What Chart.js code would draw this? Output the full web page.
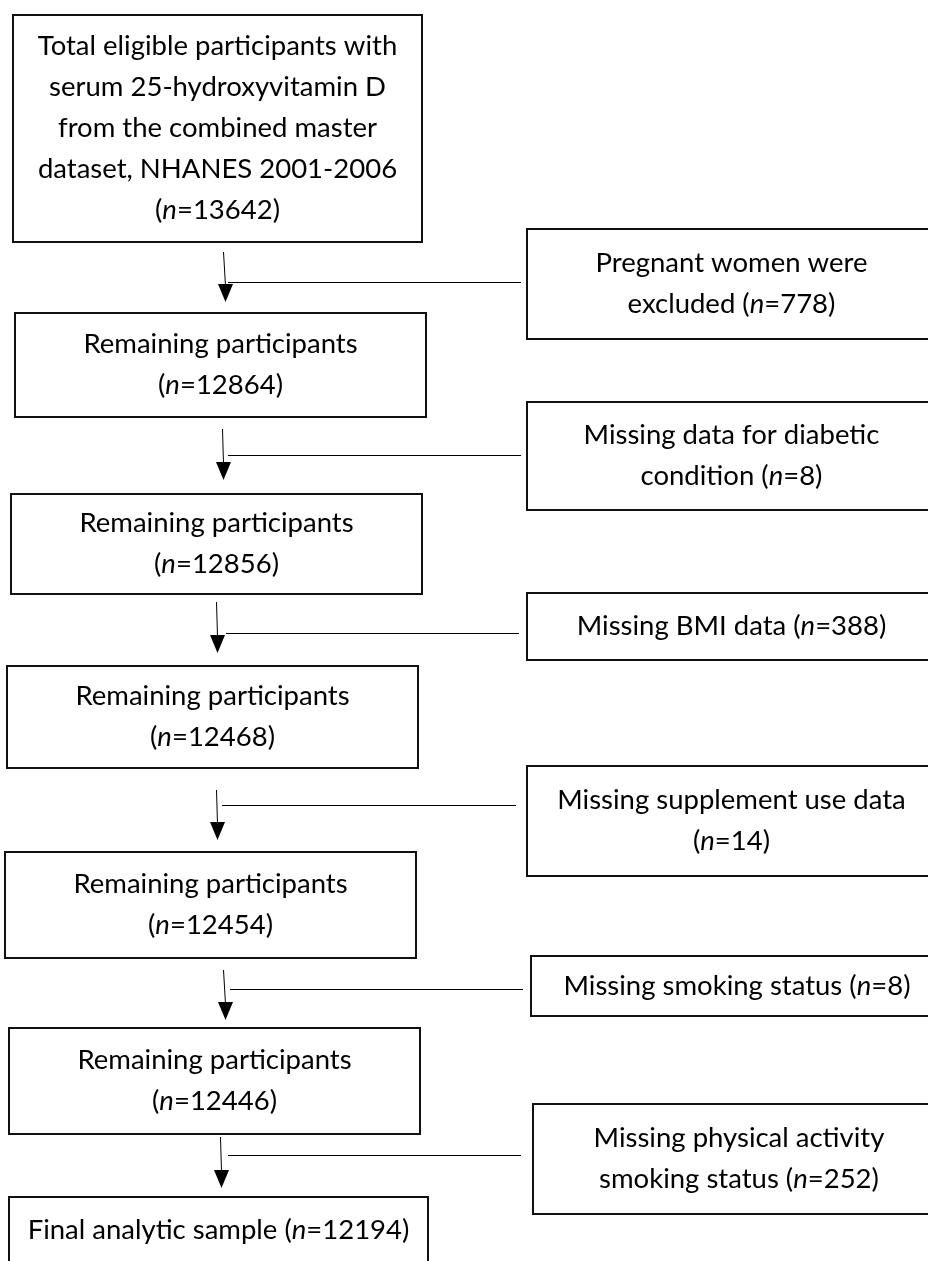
<!DOCTYPE html>
<html>
<head>
<meta charset="utf-8">
<script src="https://cdn.jsdelivr.net/npm/chart.js@4.4.1/dist/chart.umd.min.js"></script>
<style>
  html, body { margin: 0; padding: 0; background: #fff; }
  canvas { display: block; }
</style>
</head>
<body>
<canvas id="flowChart" width="928" height="1261"></canvas>
<script>
// Flow of participants, NHANES 2001-2006
const stepLabels = [
    'Total eligible participants with\nserum 25-hydroxyvitamin D\nfrom the combined master\ndataset, NHANES 2001-2006',
    'Remaining participants',
    'Remaining participants',
    'Remaining participants',
    'Remaining participants',
    'Remaining participants',
    'Final analytic sample'
];
const stepCounts = [13642, 12864, 12856, 12468, 12454, 12446, 12194];

const exclusionLabels = [
    'Pregnant women were\nexcluded',
    'Missing data for diabetic\ncondition',
    'Missing BMI data',
    'Missing supplement use data',
    'Missing smoking status',
    'Missing physical activity\nsmoking status'
];
const exclusionCounts = [778, 8, 388, 14, 8, 252];

// layout in scale units (x0, y0, x1, y1), count on the same line or not
const stepBoxes = [
    [13, 15, 422, 242, false],
    [15, 313, 426, 417, false],
    [11, 494, 422, 594, false],
    [7, 666, 418, 768, false],
    [5, 852, 416, 958, false],
    [9, 1028, 420, 1134, false],
    [9, 1197, 428, 1264, true]
];
const exclusionBoxes = [
    [527, 229, 936, 339, true],
    [527, 402, 936, 510, true],
    [527, 593, 936, 660, true],
    [527, 766, 936, 876, false],
    [531, 956, 943, 1016, true],
    [533, 1104, 945, 1214, true]
];
// arrow x top, x tip, y top, y tip, branch y, branch x start, branch x end
const arrows = [
    [223, 225, 252, 302, 282, 228, 521],
    [222, 223, 429, 480, 455, 228, 521],
    [216, 217, 602, 653, 633, 226, 519],
    [216, 217, 790, 840, 805, 222, 516],
    [223, 225, 970, 1020, 989, 230, 523],
    [220, 221, 1137, 1188, 1155, 228, 521]
];

const FONT_SIZE = 27.5;
const LINE_GAP = 41;
const FONT_FAMILY = 'Lato, "Open Sans", sans-serif';

function textLines(label, count, inline) {
    const lines = label.split('\n').map(t => [{ t: t, it: false }]);
    const countRuns = [{ t: '(', it: false }, { t: 'n', it: true }, { t: '=' + count + ')', it: false }];
    if (inline) {
        const last = lines[lines.length - 1];
        last[last.length - 1].t += ' ';
        countRuns.forEach(r => last.push(r));
    } else {
        lines.push(countRuns);
    }
    return lines;
}

function drawRuns(ctx, runs, cx, cy) {
    const widths = runs.map(r => {
        ctx.font = (r.it ? 'italic ' : '') + FONT_SIZE + 'px ' + FONT_FAMILY;
        return ctx.measureText(r.t).width;
    });
    let x = cx - widths.reduce((a, b) => a + b, 0) / 2;
    runs.forEach((r, i) => {
        ctx.font = (r.it ? 'italic ' : '') + FONT_SIZE + 'px ' + FONT_FAMILY;
        ctx.fillText(r.t, x, cy);
        x += widths[i];
    });
}

function drawBox(chart, box, label, count) {
    const ctx = chart.ctx;
    const xs = chart.scales.x, ys = chart.scales.y;
    const x0 = xs.getPixelForValue(box[0]), x1 = xs.getPixelForValue(box[2]);
    const y0 = ys.getPixelForValue(box[1]), y1 = ys.getPixelForValue(box[3]);
    ctx.strokeStyle = '#111';
    ctx.lineWidth = 2;
    ctx.strokeRect(x0, y0, x1 - x0, y1 - y0);

    const lines = textLines(label, count, box[4]);
    const cx = (x0 + x1) / 2;
    const cy = (y0 + y1) / 2;
    const top = cy - (lines.length - 1) * LINE_GAP / 2;
    ctx.fillStyle = '#000';
    ctx.textAlign = 'left';
    ctx.textBaseline = 'middle';
    lines.forEach((runs, i) => drawRuns(ctx, runs, cx, top + i * LINE_GAP));
}

function drawArrow(chart, a) {
    const ctx = chart.ctx;
    const xs = chart.scales.x, ys = chart.scales.y;
    const xt = xs.getPixelForValue(a[0]) + 0.5, xb = xs.getPixelForValue(a[1]) + 0.5;
    const yt = ys.getPixelForValue(a[2]), yb = ys.getPixelForValue(a[3]);
    const yh = ys.getPixelForValue(a[4]) + 0.5;
    ctx.strokeStyle = '#000';
    ctx.fillStyle = '#000';
    ctx.lineWidth = 1;
    ctx.beginPath();
    ctx.moveTo(xt, yt);
    ctx.lineTo(xb, yb - 16);
    ctx.stroke();
    // arrow head
    ctx.beginPath();
    ctx.moveTo(xb - 7.5, yb - 18);
    ctx.lineTo(xb + 7.5, yb - 18);
    ctx.lineTo(xb, yb);
    ctx.closePath();
    ctx.fill();
    // branch to exclusion box
    ctx.beginPath();
    ctx.moveTo(xs.getPixelForValue(a[5]), yh);
    ctx.lineTo(xs.getPixelForValue(a[6]), yh);
    ctx.stroke();
}

const flowPlugin = {
    id: 'flowPlugin',
    afterDraw(chart) {
        const ctx = chart.ctx;
        ctx.save();
        arrows.forEach(a => drawArrow(chart, a));
        stepBoxes.forEach((b, i) => drawBox(chart, b, stepLabels[i], stepCounts[i]));
        exclusionBoxes.forEach((b, i) => drawBox(chart, b, exclusionLabels[i], exclusionCounts[i]));
        ctx.restore();
    }
};

const ctx = document.getElementById('flowChart').getContext('2d');
const flowChart = new Chart(ctx, {
    type: 'scatter',
    data: { datasets: [] },
    options: {
        responsive: false,
        animation: false,
        layout: { padding: 0 },
        plugins: { legend: { display: false }, tooltip: { enabled: false } },
        scales: {
            x: { type: 'linear', min: 0, max: 928, display: false },
            y: { type: 'linear', min: 0, max: 1261, reverse: true, display: false }
        }
    },
    plugins: [flowPlugin]
});
</script>
</body>
</html>
